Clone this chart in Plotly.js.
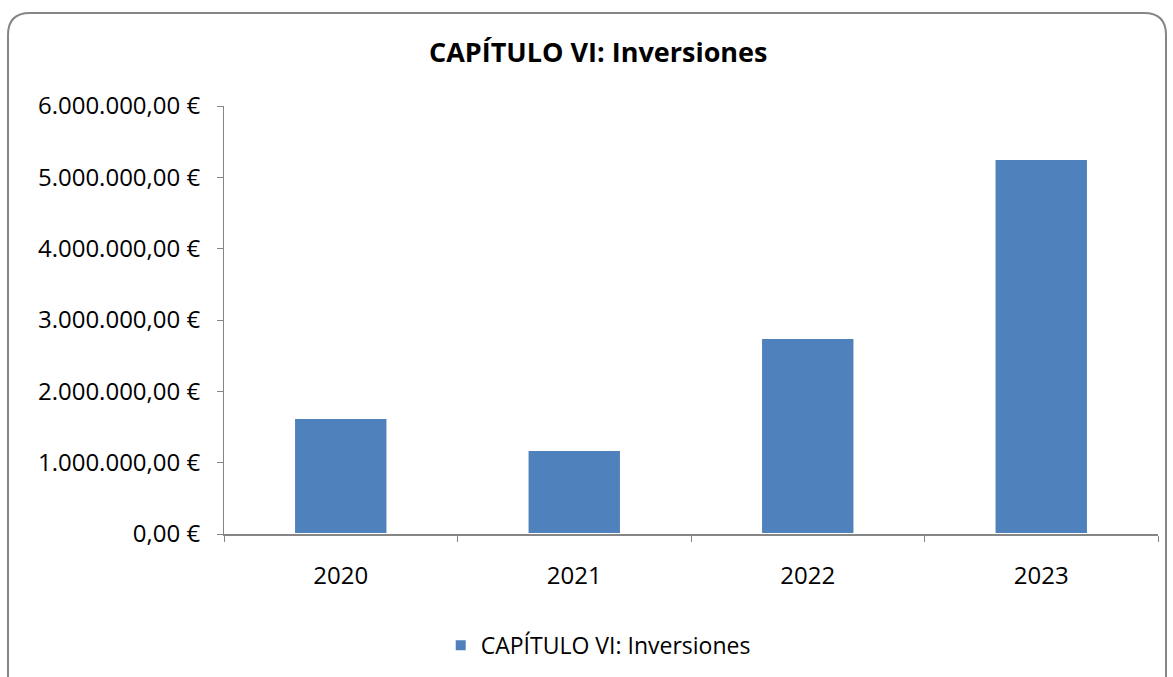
<!DOCTYPE html>
<html>
<head>
<meta charset="utf-8">
<script src="https://cdn.plot.ly/plotly-3.0.1.min.js"></script>
<style>
html,body{margin:0;padding:0;background:#fff;}
#chart{width:1173px;height:677px;}
</style>
</head>
<body>
<div id="chart"></div>
<script>
const categories = ["2020", "2021", "2022", "2023"];
const values = [1626000, 1178000, 2748000, 5257000];
const seriesName = "CAPÍTULO VI: Inversiones";
const chartTitle = "CAPÍTULO VI: Inversiones";

const FONT = "'Open Sans', Lato, sans-serif";

const trace = {
  type: "bar",
  x: categories,
  y: values,
  name: seriesName,
  marker: {color: "#4f81bd", line: {color: "#ffffff", width: 2}},
  showlegend: true,
  hoverinfo: "x+y"
};

const layout = {
  width: 1173,
  height: 677,
  paper_bgcolor: "#ffffff",
  plot_bgcolor: "#ffffff",
  font: {family: FONT, size: 23, color: "#000"},
  margin: {l: 224, r: 15, t: 106, b: 143},
  title: {
    text: "<b>" + chartTitle + "</b>",
    font: {family: FONT, size: 27, color: "#000"},
    x: 0.51, xref: "container", xanchor: "center",
    y: 0.922, yref: "container", yanchor: "middle"
  },
  bargap: 0.6,
  xaxis: {
    type: "category",
    showline: true, linecolor: "#868686", linewidth: 2,
    ticks: "outside", tickson: "boundaries", ticklen: 6, tickcolor: "#868686", tickwidth: 1,
    showgrid: false, zeroline: false,
    ticklabelstandoff: 19,
    tickfont: {family: FONT, size: 24, color: "#000"}
  },
  yaxis: {
    range: [0, 6000000],
    dtick: 1000000,
    tickformat: ",.2f",
    ticksuffix: " €",
    showline: true, linecolor: "#868686", linewidth: 1,
    ticks: "outside", ticklen: 6, tickcolor: "#868686",
    showgrid: false, zeroline: false,
    ticklabelstandoff: 12,
    tickfont: {family: FONT, size: 24, color: "#000"}
  },
  separators: ",.",
  legend: {
    orientation: "h",
    x: 0.51, xref: "container", xanchor: "center",
    y: 0.047, yref: "container", yanchor: "middle",
    font: {family: FONT, size: 23, color: "#000"}
  },
  shapes: [{
    type: "path",
    xref: "paper", yref: "paper",
    layer: "below",
    line: {color: "#868686", width: 2},
    path: ""
  }]
};

// Rounded frame drawn in pixel coordinates converted to paper units
(function(){
  const W = 1173, H = 677, ml = 224, mr = 15, mt = 106, mb = 143;
  const pw = W - ml - mr, ph = H - mt - mb;
  const px = x => (x - ml) / pw;
  const py = y => (H - mb - y) / ph;
  const x0 = 8, x1 = 1166, y0 = 13, y1 = 690, r = 22;
  layout.shapes[0].path =
    "M " + px(x0) + "," + py(y1) +
    " L " + px(x0) + "," + py(y0 + r) +
    " Q " + px(x0) + "," + py(y0) + " " + px(x0 + r) + "," + py(y0) +
    " L " + px(x1 - r) + "," + py(y0) +
    " Q " + px(x1) + "," + py(y0) + " " + px(x1) + "," + py(y0 + r) +
    " L " + px(x1) + "," + py(y1);
})();

Plotly.newPlot("chart", [trace], layout, {displayModeBar: false, staticPlot: true});
</script>
</body>
</html>
